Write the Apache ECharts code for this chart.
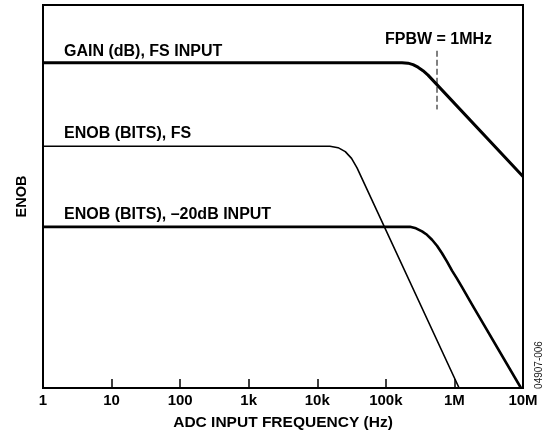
<!DOCTYPE html>
<html>
<head>
<meta charset="utf-8">
<script src="https://cdn.jsdelivr.net/npm/echarts@6/dist/echarts.min.js"></script>
<style>
  html, body { margin: 0; padding: 0; background: #fff; }
  #chart { width: 548px; height: 436px; }
</style>
</head>
<body>
<div id="chart"></div>
<script>
// x tick labels, one per decade from 1 Hz to 10 MHz
var tickLabels = ['1', '10', '100', '1k', '10k', '100k', '1M', '10M'];

// curves: [frequency Hz, relative level 0-100]
var gainFs = [[1, 84.94], [1.72e5, 84.94], [2.10e5, 84.81], [2.49e5, 84.42], [2.94e5, 83.77], [3.48e5, 82.86], [4.12e5, 81.69], [1e7, 55.2]];
var enobFs = [[1, 63.12], [1.53e4, 63.12], [2.01e4, 62.75], [2.56e4, 61.71], [3.16e4, 59.95], [3.80e4, 57.48], [1.17e6, 0]];
var enob20 = [[1, 42.08], [2.25e5, 42.08], [2.75e5, 41.69], [3.37e5, 40.91], [3.98e5, 40.0], [4.71e5, 38.70], [5.57e5, 37.14],
              [6.59e5, 35.19], [7.80e5, 32.99], [9.22e5, 30.65], [1.09e6, 28.57], [1.29e6, 26.36], [1.80e6, 21.82], [9.35e6, 0]];
var fpbwMarker = [[5.57e5, 88.05], [5.57e5, 72.73]];

var font = '"Liberation Sans", Arial, sans-serif';

var myChart = echarts.init(document.getElementById('chart'));
var option = {
    animation: false,
    grid: {
        left: 43, right: 25, top: 5, bottom: 46,
        show: true,
        borderColor: '#000',
        borderWidth: 2
    },
    xAxis: {
        type: 'log',
        logBase: 10,
        min: 1,
        max: 1e7,
        splitNumber: 7,
        name: 'ADC INPUT FREQUENCY (Hz)',
        nameLocation: 'middle',
        nameGap: 27,
        nameTextStyle: { fontFamily: font, fontWeight: 'bold', fontSize: 15.5, color: '#000' },
        axisLine: { lineStyle: { color: '#000', width: 2 } },
        axisTick: { inside: true, length: 9, lineStyle: { color: '#000', width: 1.5 } },
        minorTick: { show: false },
        splitLine: { show: false },
        axisLabel: {
            margin: 5,
            fontFamily: font, fontWeight: 'bold', fontSize: 15, color: '#000',
            formatter: function (v) {
                return tickLabels[Math.round(Math.log10(v))];
            }
        }
    },
    yAxis: {
        type: 'value',
        min: 0,
        max: 100,
        name: 'ENOB',
        nameLocation: 'middle',
        nameGap: 14,
        nameTextStyle: { fontFamily: font, fontWeight: 'bold', fontSize: 14.5, color: '#000' },
        axisLine: { show: true, lineStyle: { color: '#000', width: 2 } },
        axisTick: { show: false },
        axisLabel: { show: false },
        splitLine: { show: false }
    },
    graphic: [
        { type: 'text', x: 64, y: 51.5, style: { text: 'GAIN (dB), FS INPUT', font: 'bold 16px ' + font, fill: '#000', verticalAlign: 'middle' } },
        { type: 'text', x: 64, y: 134, style: { text: 'ENOB (BITS), FS', font: 'bold 16px ' + font, fill: '#000', verticalAlign: 'middle' } },
        { type: 'text', x: 64, y: 215, style: { text: 'ENOB (BITS), \u201320dB INPUT', font: 'bold 16px ' + font, fill: '#000', verticalAlign: 'middle' } },
        { type: 'text', x: 438.5, y: 40, style: { text: 'FPBW = 1MHz', font: 'bold 16px ' + font, fill: '#000', align: 'center', verticalAlign: 'middle' } },
        { type: 'text', x: 539, y: 365, rotation: Math.PI / 2, style: { text: '04907-006', font: '10px ' + font, fill: '#222', align: 'center', verticalAlign: 'middle' } }
    ],
    series: [
        {
            name: 'GAIN (dB), FS INPUT', type: 'line', data: gainFs,
            showSymbol: false,
            lineStyle: { color: '#000', width: 3, join: 'round' }
        },
        {
            name: 'ENOB (BITS), FS', type: 'line', data: enobFs,
            showSymbol: false,
            lineStyle: { color: '#000', width: 1.6, join: 'round' }
        },
        {
            name: 'ENOB (BITS), -20dB INPUT', type: 'line', data: enob20,
            showSymbol: false,
            lineStyle: { color: '#000', width: 2.6, join: 'round' }
        },
        {
            name: 'FPBW', type: 'line', data: fpbwMarker,
            showSymbol: false,
            lineStyle: { color: '#000', width: 1, type: [6, 3] }
        }
    ]
};

myChart.setOption(option);

window.onresize = function () {
    myChart.resize();
};
</script>
</body>
</html>
